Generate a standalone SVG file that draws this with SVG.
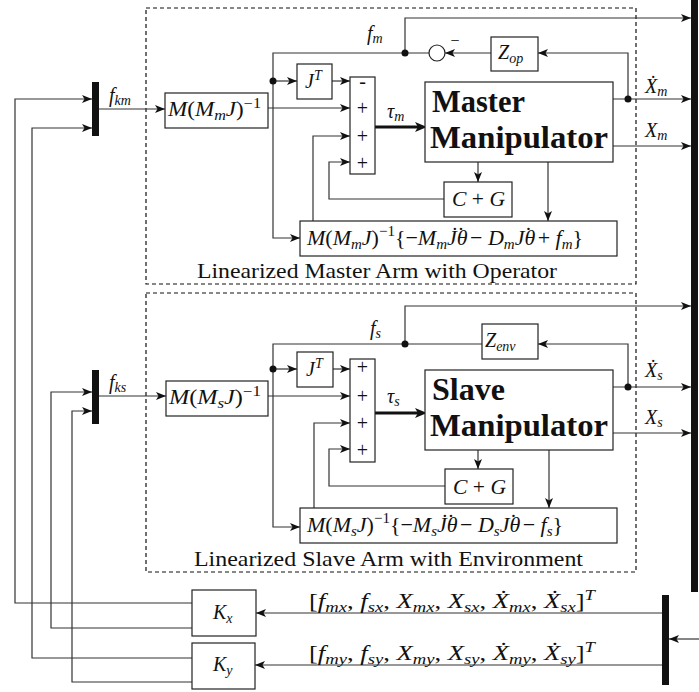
<svg xmlns="http://www.w3.org/2000/svg" width="699" height="692" viewBox="0 0 699 692">
<style>
.box{fill:#fff;stroke:#222;stroke-width:1.2}
.dash{fill:none;stroke:#111;stroke-width:1.2;stroke-dasharray:4 3}
.ln{fill:none;stroke:#333;stroke-width:1.2}
.thk{fill:none;stroke:#111;stroke-width:3}
.bar{fill:#111}
.dot{fill:#111}
text{font-family:'Liberation Serif','Times New Roman',Times,serif;fill:#111}
.m{font-style:italic;font-size:20px}
.f{font-style:italic;font-size:22px}
.u{font-style:normal}
.s{font-size:14px}
.s2{font-size:15px}
.big{font-weight:bold;font-size:32px}
.cap{font-size:21px}
.sg{font-size:20px;text-anchor:middle}
</style>
<defs>
<marker id="a" viewBox="0 0 10 8" refX="10" refY="4" markerWidth="10" markerHeight="8" markerUnits="userSpaceOnUse" orient="auto"><path d="M0,0 L10,4 L0,8 L2.5,4 z" fill="#111"/></marker>
<marker id="b" viewBox="0 0 12 10" refX="4" refY="5" markerWidth="12" markerHeight="10" markerUnits="userSpaceOnUse" orient="auto"><path d="M0,0 L12,5 L0,10 L3,5 z" fill="#111"/></marker>
</defs>

<g id="master-frame">
<rect class="dash" x="146" y="8" width="490" height="276"/>
<text class="cap" x="197" y="278" textLength="360" lengthAdjust="spacingAndGlyphs">Linearized Master Arm with Operator</text>
</g>
<g id="slave-frame">
<rect class="dash" x="146" y="293" width="490" height="279"/>
<text class="cap" x="194" y="566" textLength="389" lengthAdjust="spacingAndGlyphs">Linearized Slave Arm with Environment</text>
</g>

<g id="connectors">
<path class="ln" d="M99,109 H165" marker-end="url(#a)"/>
<path class="ln" d="M268,108 H350" marker-end="url(#a)"/>
<path class="ln" d="M332,81 H350" marker-end="url(#a)"/>
<path class="ln" d="M273,81 H297" marker-end="url(#a)"/>
<path class="ln" d="M429,53 H273 V238 H300" marker-end="url(#a)"/>
<path class="ln" d="M405,53 V18 H691" marker-end="url(#a)"/>
<path class="ln" d="M313,221 V136 H350" marker-end="url(#a)"/>
<path class="ln" d="M444,199 H329 V162 H350" marker-end="url(#a)"/>
<path class="thk" d="M375,127 H419" marker-end="url(#b)"/>
<path class="ln" d="M613,99 H691" marker-end="url(#a)"/>
<path class="ln" d="M613,146 H691" marker-end="url(#a)"/>
<path class="ln" d="M628,99 V53 H538" marker-end="url(#a)"/>
<path class="ln" d="M491,53 H445" marker-end="url(#a)"/>
<path class="ln" d="M478,162 V182" marker-end="url(#a)"/>
<path class="ln" d="M548,162 V221" marker-end="url(#a)"/>
<circle class="dot" cx="273" cy="81" r="3.5"/>
<circle class="dot" cx="405" cy="53" r="3.5"/>
<circle class="dot" cx="628" cy="99" r="3.5"/>
<path class="ln" d="M99,396 H166" marker-end="url(#a)"/>
<path class="ln" d="M268,396 H350" marker-end="url(#a)"/>
<path class="ln" d="M333,369 H350" marker-end="url(#a)"/>
<path class="ln" d="M273,369 H297" marker-end="url(#a)"/>
<path class="ln" d="M482,344 H273 V527 H300" marker-end="url(#a)"/>
<path class="ln" d="M405,344 V306 H691" marker-end="url(#a)"/>
<path class="ln" d="M314,508 V423 H350" marker-end="url(#a)"/>
<path class="ln" d="M445,486 H329 V449 H350" marker-end="url(#a)"/>
<path class="thk" d="M375,413 H419" marker-end="url(#b)"/>
<path class="ln" d="M613,387 H691" marker-end="url(#a)"/>
<path class="ln" d="M613,433 H691" marker-end="url(#a)"/>
<path class="ln" d="M628,387 V344 H538" marker-end="url(#a)"/>
<path class="ln" d="M478,450 V469" marker-end="url(#a)"/>
<path class="ln" d="M549,450 V508" marker-end="url(#a)"/>
<circle class="dot" cx="273" cy="369" r="3.5"/>
<circle class="dot" cx="405" cy="344" r="3.5"/>
<circle class="dot" cx="628" cy="387" r="3.5"/>
<path class="ln" d="M699,639 H669" marker-end="url(#a)"/>
<path class="ln" d="M662,613 H256" marker-end="url(#a)"/>
<path class="ln" d="M662,665 H255" marker-end="url(#a)"/>
<path class="ln" d="M192,603 H15 V99 H92" marker-end="url(#a)"/>
<path class="ln" d="M192,628 H51 V392 H92" marker-end="url(#a)"/>
<path class="ln" d="M192,658 H32 V128 H92" marker-end="url(#a)"/>
<path class="ln" d="M192,682 H72 V411 H92" marker-end="url(#a)"/>
</g>

<g id="labels">
<text class="m" x="109" y="102">f<tspan class="s" dy="3">km</tspan></text>
<text class="m" x="109" y="389">f<tspan class="s" dy="3">ks</tspan></text>
<text class="m" x="367" y="40">f<tspan class="s" dy="3">m</tspan></text>
<text class="m" x="370" y="335">f<tspan class="s" dy="3">s</tspan></text>
<text class="m" x="387" y="118">τ<tspan class="s" dy="3">m</tspan></text>
<text class="m" x="387" y="403">τ<tspan class="s" dy="3">s</tspan></text>
<text class="m" x="645" y="93">Ẋ<tspan class="s" dy="3">m</tspan></text>
<text class="m" x="645" y="137">X<tspan class="s" dy="3">m</tspan></text>
<text class="m" x="645" y="377">Ẋ<tspan class="s" dy="3">s</tspan></text>
<text class="m" x="645" y="424">X<tspan class="s" dy="3">s</tspan></text>
<text class="sg" x="455" y="46" style="font-size:16px">−</text>
<text class="m" x="309" y="608" textLength="286" lengthAdjust="spacingAndGlyphs"><tspan class="u">[</tspan>f<tspan class="s" dy="4">mx</tspan><tspan class="u" dy="-4">, </tspan>f<tspan class="s" dy="4">sx</tspan><tspan class="u" dy="-4">, </tspan>X<tspan class="s" dy="4">mx</tspan><tspan class="u" dy="-4">, </tspan>X<tspan class="s" dy="4">sx</tspan><tspan class="u" dy="-4">, </tspan>Ẋ<tspan class="s" dy="4">mx</tspan><tspan class="u" dy="-4">, </tspan>Ẋ<tspan class="s" dy="4">sx</tspan><tspan class="u" dy="-4">]</tspan><tspan class="s" dy="-8">T</tspan></text>
<text class="m" x="309" y="660" textLength="286" lengthAdjust="spacingAndGlyphs"><tspan class="u">[</tspan>f<tspan class="s" dy="4">my</tspan><tspan class="u" dy="-4">, </tspan>f<tspan class="s" dy="4">sy</tspan><tspan class="u" dy="-4">, </tspan>X<tspan class="s" dy="4">my</tspan><tspan class="u" dy="-4">, </tspan>X<tspan class="s" dy="4">sy</tspan><tspan class="u" dy="-4">, </tspan>Ẋ<tspan class="s" dy="4">my</tspan><tspan class="u" dy="-4">, </tspan>Ẋ<tspan class="s" dy="4">sy</tspan><tspan class="u" dy="-4">]</tspan><tspan class="s" dy="-8">T</tspan></text>
</g>

<g id="bars">
<rect class="bar" x="92" y="82" width="7" height="54"/>
<rect class="bar" x="92" y="370" width="7" height="54"/>
<rect class="bar" x="691" y="0" width="7" height="592"/>
<rect class="bar" x="662" y="595" width="7" height="90"/>
</g>

<g id="m-inv">
<rect class="box" x="165" y="93" width="103" height="35"/>
<text class="m" x="168" y="116" textLength="93" lengthAdjust="spacingAndGlyphs">M<tspan class="u">(</tspan>M<tspan class="s" dy="4">m</tspan><tspan dy="-4">J</tspan><tspan class="u">)</tspan><tspan class="s u" dy="-8">−1</tspan></text>
</g>
<g id="m-jt">
<rect class="box" x="297" y="64" width="35" height="35"/>
<text class="m" x="305" y="88">J<tspan class="s" dy="-8">T</tspan></text>
</g>
<g id="m-sum">
<rect class="box" x="350" y="77" width="25" height="97"/>
<text class="sg" x="362.5" y="88">-</text>
<text class="sg" x="362.5" y="115">+</text>
<text class="sg" x="362.5" y="143">+</text>
<text class="sg" x="362.5" y="170">+</text>
</g>
<g id="m-manip">
<rect class="box" x="425" y="82" width="188" height="80"/>
<text class="big" x="432" y="112" textLength="93" lengthAdjust="spacingAndGlyphs">Master</text>
<text class="big" x="430" y="148" textLength="178" lengthAdjust="spacingAndGlyphs">Manipulator</text>
</g>
<g id="m-zop">
<rect class="box" x="491" y="37" width="47" height="34"/>
<text class="m" x="498" y="59">Z<tspan class="s" dy="4">op</tspan></text>
</g>
<g id="m-circle">
<circle cx="437" cy="53" r="8" fill="#fff" stroke="#222" stroke-width="1.2"/>
</g>
<g id="m-cg">
<rect class="box" x="444" y="182" width="68" height="35"/>
<text class="m" x="452" y="206" textLength="53" lengthAdjust="spacingAndGlyphs">C <tspan class="u">+</tspan> G</text>
</g>
<g id="m-comp">
<rect class="box" x="300" y="221" width="317" height="35"/>
<text class="f" x="307" y="245">M<tspan class="u">(</tspan>M<tspan class="s2" dy="4">m</tspan><tspan dy="-4">J</tspan><tspan class="u">)</tspan><tspan class="s2 u" dy="-9">−1</tspan><tspan class="u" dy="9">{−</tspan>M<tspan class="s2" dy="4">m</tspan><tspan dy="-4">J̇θ</tspan><tspan class="u" dx="-10.4" dy="-3.5">˙</tspan><tspan class="u" dy="3.5"> − </tspan>D<tspan class="s2" dy="4">m</tspan><tspan dy="-4">Jθ</tspan><tspan class="u" dx="-10.4" dy="-3.5">˙</tspan><tspan class="u" dy="3.5"> + </tspan>f<tspan class="s2" dy="4">m</tspan><tspan class="u" dy="-4">}</tspan></text>
</g>

<g id="s-inv">
<rect class="box" x="166" y="381" width="102" height="35"/>
<text class="m" x="169" y="404" textLength="92" lengthAdjust="spacingAndGlyphs">M<tspan class="u">(</tspan>M<tspan class="s" dy="4">s</tspan><tspan dy="-4">J</tspan><tspan class="u">)</tspan><tspan class="s u" dy="-8">−1</tspan></text>
</g>
<g id="s-jt">
<rect class="box" x="297" y="352" width="36" height="35"/>
<text class="m" x="306" y="376">J<tspan class="s" dy="-8">T</tspan></text>
</g>
<g id="s-sum">
<rect class="box" x="350" y="359" width="25" height="103"/>
<text class="sg" x="362.5" y="374">+</text>
<text class="sg" x="362.5" y="403">+</text>
<text class="sg" x="362.5" y="430">+</text>
<text class="sg" x="362.5" y="457">+</text>
</g>
<g id="s-manip">
<rect class="box" x="425" y="370" width="188" height="80"/>
<text class="big" x="432" y="400" textLength="73" lengthAdjust="spacingAndGlyphs">Slave</text>
<text class="big" x="430" y="436" textLength="178" lengthAdjust="spacingAndGlyphs">Manipulator</text>
</g>
<g id="s-zenv">
<rect class="box" x="482" y="324" width="56" height="35"/>
<text class="m" x="485" y="347">Z<tspan class="s" dy="4">env</tspan></text>
</g>
<g id="s-cg">
<rect class="box" x="445" y="469" width="68" height="35"/>
<text class="m" x="453" y="494" textLength="53" lengthAdjust="spacingAndGlyphs">C <tspan class="u">+</tspan> G</text>
</g>
<g id="s-comp">
<rect class="box" x="300" y="508" width="317" height="35"/>
<text class="f" x="307" y="532">M<tspan class="u">(</tspan>M<tspan class="s2" dy="4">s</tspan><tspan dy="-4">J</tspan><tspan class="u">)</tspan><tspan class="s2 u" dy="-9">−1</tspan><tspan class="u" dy="9">{−</tspan>M<tspan class="s2" dy="4">s</tspan><tspan dy="-4">J̇θ</tspan><tspan class="u" dx="-10.4" dy="-3.5">˙</tspan><tspan class="u" dy="3.5"> − </tspan>D<tspan class="s2" dy="4">s</tspan><tspan dy="-4">Jθ</tspan><tspan class="u" dx="-10.4" dy="-3.5">˙</tspan><tspan class="u" dy="3.5"> − </tspan>f<tspan class="s2" dy="4">s</tspan><tspan class="u" dy="-4">}</tspan></text>
</g>

<g id="kx">
<rect class="box" x="192" y="590" width="64" height="46"/>
<text class="m" x="213" y="619">K<tspan class="s" dy="4">x</tspan></text>
</g>
<g id="ky">
<rect class="box" x="192" y="643" width="63" height="46"/>
<text class="m" x="213" y="671">K<tspan class="s" dy="4">y</tspan></text>
</g>
</svg>
